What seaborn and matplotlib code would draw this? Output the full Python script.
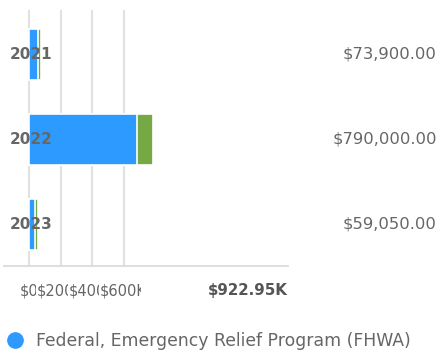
import matplotlib
matplotlib.use("Agg")
import matplotlib.pyplot as plt
import matplotlib.transforms as mtransforms
from matplotlib.lines import Line2D
import seaborn as sns
import pandas as pd

# Funding by year, split into two sources
years = ["2021", "2022", "2023"]
fhwa_relief = [58000, 685000, 38000]
other_funds = [15900, 105000, 21050]
tick_values = [0, 200000, 400000, 600000]
tick_labels = ["$0", "$200K", "$400K", "$600K"]
legend_label = "Federal, Emergency Relief Program (FHWA)"

BLUE = "#2C9AFF"
GREEN = "#76A844"
GREY_TXT = "#666666"
GRID = "#E2E2E2"

totals = [a + b for a, b in zip(fhwa_relief, other_funds)]
df = pd.DataFrame({"year": years, "fhwa": fhwa_relief, "total": totals})

sns.set_theme(style="white")
plt.rcParams["font.family"] = ["DejaVu Sans"]

W, H = 441, 352
fig = plt.figure(figsize=(W / 100, H / 100), dpi=100)
ax = fig.add_axes([4 / W, 1 - 266 / H, (288 - 4) / W, (266 - 10) / H])

# stacked bars: full total in green, relief portion over it in blue
sns.barplot(data=df, y="year", x="total", color=GREEN, orient="h", width=0.6,
            saturation=1, edgecolor="white", linewidth=1.2, ax=ax, zorder=3)
sns.barplot(data=df, y="year", x="fhwa", color=BLUE, orient="h", width=0.6,
            saturation=1, edgecolor="white", linewidth=1.2, ax=ax, zorder=4)

px = 200000 / 31.5  # data units per pixel
ax.set_xlim(-25 * px, 259 * px)
ax.set_ylim(2.49, -0.52)
ax.set_xticks(tick_values)
ax.set_xticklabels([])
ax.set_yticks([])
ax.set_xlabel("")
ax.set_ylabel("")
ax.tick_params(length=0)
ax.grid(axis="x", color=GRID, linewidth=1.5, zorder=0)
for s in ["top", "right", "left"]:
    ax.spines[s].set_visible(False)
ax.spines["bottom"].set_color("#D8D8D8")
ax.spines["bottom"].set_linewidth(1.2)

# year labels over the bars
for i, y in enumerate(years):
    ax.text(2 * px, i, y, ha="center", va="center", fontsize=11,
            fontweight="bold", color=GREY_TXT, zorder=6)

# totals at the right edge
trans_r = mtransforms.blended_transform_factory(fig.transFigure, ax.transData)
for i, t in enumerate(totals):
    ax.text(437 / W, i, f"${t:,.2f}", transform=trans_r, ha="right",
            va="center", fontsize=11.8, color=GREY_TXT, clip_on=False)

# crowded tick labels centred on their ticks, each cut off where the next begins
fig.canvas.draw()
renderer = fig.canvas.get_renderer()
trans_t = mtransforms.blended_transform_factory(ax.transData, fig.transFigure)
texts = []
for lab, v in zip(tick_labels, tick_values):
    t = ax.text(v, 1 - 291 / H, lab, transform=trans_t, ha="center",
                va="center", fontsize=10.5, color=GREY_TXT, clip_on=False)
    texts.append(t)
lefts = [t.get_window_extent(renderer).x0 for t in texts]
rights = lefts[1:] + [ax.transData.transform((tick_values[-1], 0))[0] + 18]
for t, x0, x1 in zip(texts, lefts, rights):
    box = mtransforms.Bbox.from_extents(x0 - 1, 0, x1 - 1, H)
    t.set_clip_box(mtransforms.TransformedBbox(box, mtransforms.IdentityTransform()))
    t.set_clip_on(True)

fig.text(288 / W, 1 - 291 / H, f"${sum(totals) / 1000:,.2f}K", ha="right",
         va="center", fontsize=10.8, fontweight="bold", color="#555555")

fig.legend(handles=[Line2D([], [], marker="o", linestyle="", markersize=11,
                           markerfacecolor=BLUE, markeredgecolor=BLUE)],
           labels=[legend_label], loc="center left",
           bbox_to_anchor=(6 / W, 1 - 341 / H), frameon=False, fontsize=12.4,
           handletextpad=0.75, handlelength=1.0, labelcolor=GREY_TXT,
           borderaxespad=0, borderpad=0)

fig.savefig("out.png", dpi=100)
